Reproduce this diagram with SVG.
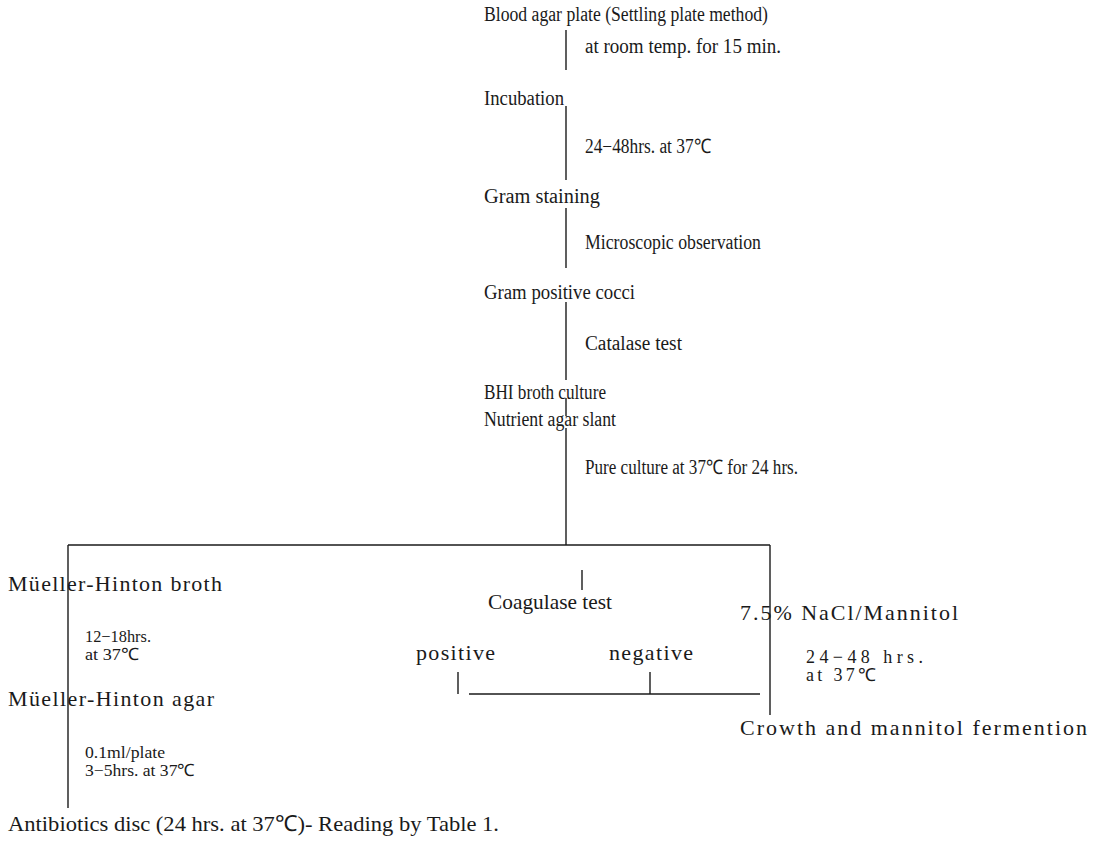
<svg xmlns="http://www.w3.org/2000/svg" width="1095" height="852" viewBox="0 0 1095 852">
<style>
text{font-family:"Liberation Serif","Times New Roman",serif;font-size:20px;fill:#1a1a1a;}
.b{font-size:22px;}
.s{font-size:17px;}
.c line{stroke:#1a1a1a;stroke-width:1.4;fill:none;}
</style>
<rect width="1095" height="852" fill="#fff"/>
<g class="c" id="connectors">
<line x1="566" y1="30" x2="566" y2="70"/>
<line x1="566" y1="106" x2="566" y2="180"/>
<line x1="566" y1="208" x2="566" y2="268"/>
<line x1="566" y1="302" x2="566" y2="380"/>
<line x1="566" y1="398" x2="566" y2="416"/>
<line x1="566" y1="428" x2="566" y2="545"/>
<line x1="68" y1="545" x2="770" y2="545"/>
<line x1="68" y1="545" x2="68" y2="808"/>
<line x1="770" y1="545" x2="770" y2="715"/>
<line x1="582" y1="570" x2="582" y2="590"/>
<line x1="458" y1="672" x2="458" y2="694"/>
<line x1="469" y1="694" x2="760" y2="694"/>
<line x1="650" y1="672" x2="650" y2="694"/>
</g>
<g id="n1"><text x="484" y="21" textLength="284" lengthAdjust="spacingAndGlyphs">Blood agar plate (Settling plate method)</text></g>
<g id="l1"><text x="585" y="53" textLength="196" lengthAdjust="spacingAndGlyphs">at room temp. for 15 min.</text></g>
<g id="n2"><text x="484" y="105" textLength="80" lengthAdjust="spacingAndGlyphs">Incubation</text></g>
<g id="l2"><text x="585" y="153" textLength="126" lengthAdjust="spacingAndGlyphs">24−48hrs. at 37℃</text></g>
<g id="n3"><text x="484" y="203" textLength="116" lengthAdjust="spacingAndGlyphs">Gram staining</text></g>
<g id="l3"><text x="585" y="249" textLength="176" lengthAdjust="spacingAndGlyphs">Microscopic observation</text></g>
<g id="n4"><text x="484" y="299" textLength="151" lengthAdjust="spacingAndGlyphs">Gram positive cocci</text></g>
<g id="l4"><text x="585" y="350" textLength="97" lengthAdjust="spacingAndGlyphs">Catalase test</text></g>
<g id="n5"><text x="484" y="399" textLength="122" lengthAdjust="spacingAndGlyphs">BHI broth culture</text>
<text x="484" y="426" textLength="132" lengthAdjust="spacingAndGlyphs">Nutrient agar slant</text></g>
<g id="l5"><text x="585" y="474" textLength="213" lengthAdjust="spacingAndGlyphs">Pure culture at 37℃ for 24 hrs.</text></g>
<g id="n6"><text class="b" x="8" y="591" textLength="214" lengthAdjust="spacing">Müeller-Hinton broth</text></g>
<g id="l6"><text class="s" x="85" y="642" textLength="66" lengthAdjust="spacingAndGlyphs">12−18hrs.</text>
<text class="s" x="85" y="660" textLength="54" lengthAdjust="spacingAndGlyphs">at 37℃</text></g>
<g id="n7"><text class="b" x="8" y="706" textLength="206" lengthAdjust="spacing">Müeller-Hinton agar</text></g>
<g id="l7"><text class="s" x="85" y="758" textLength="80" lengthAdjust="spacingAndGlyphs">0.1ml/plate</text>
<text class="s" x="85" y="776" textLength="110" lengthAdjust="spacingAndGlyphs">3−5hrs. at 37℃</text></g>
<g id="n8"><text class="b" x="8" y="831" textLength="491" lengthAdjust="spacingAndGlyphs">Antibiotics disc (24 hrs. at 37℃)- Reading by Table 1.</text></g>
<g id="n9"><text class="b" x="488" y="609" textLength="124" lengthAdjust="spacingAndGlyphs">Coagulase test</text></g>
<g id="n10"><text class="b" x="416" y="660" textLength="79" lengthAdjust="spacing">positive</text></g>
<g id="n11"><text class="b" x="609" y="660" textLength="84" lengthAdjust="spacing">negative</text></g>
<g id="n12"><text class="b" x="740" y="620" textLength="218" lengthAdjust="spacing">7.5% NaCl/Mannitol</text></g>
<g id="l12"><text class="b" x="806" y="663" textLength="117" lengthAdjust="spacing" style="font-size:18px">24−48 hrs.</text>
<text class="b" x="806" y="681" textLength="70" lengthAdjust="spacing" style="font-size:18px">at 37℃</text></g>
<g id="n13"><text class="b" x="740" y="735" textLength="347" lengthAdjust="spacing">Crowth and mannitol fermention</text></g>
</svg>
